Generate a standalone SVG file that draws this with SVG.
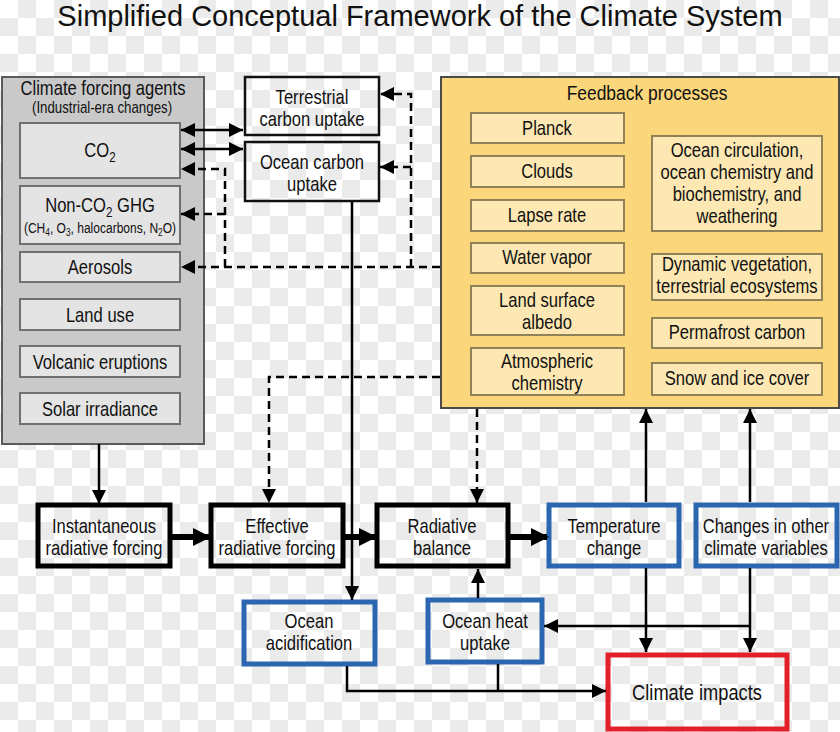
<svg xmlns="http://www.w3.org/2000/svg" width="840" height="732" viewBox="0 0 840 732">
<style>
text{font-family:"Liberation Sans",Arial,sans-serif;fill:#111;text-anchor:middle}
.t{font-size:20px}
.title{font-size:29px}
.gbox{fill:#e4e4e4;stroke:#707070;stroke-width:2}
.ybox{fill:#fde8b3;stroke:#8f8258;stroke-width:2}
.wbox{fill:none;stroke:#111;stroke-width:2.5}
.kbox{fill:none;stroke:#000;stroke-width:5}
.bbox{fill:none;stroke:#2b66b0;stroke-width:5}
.rbox{fill:none;stroke:#e2202b;stroke-width:5}
.ln{fill:none;stroke:#000;stroke-width:2.5}
.thick{fill:none;stroke:#000;stroke-width:6}
.dash{fill:none;stroke:#000;stroke-width:2.5;stroke-dasharray:8 5}
</style>
<defs>
<pattern id="chk" width="36" height="36" patternUnits="userSpaceOnUse">
<rect width="36" height="36" fill="#ffffff"/>
<rect x="18" y="0" width="18" height="18" fill="#ebebeb"/>
<rect x="0" y="18" width="18" height="18" fill="#ebebeb"/>
</pattern>
<marker id="ah" markerUnits="userSpaceOnUse" markerWidth="14" markerHeight="14" viewBox="0 0 14 14" refX="14" refY="7" orient="auto-start-reverse">
<path d="M0,0 L14,7 L0,14 z" fill="#000"/>
</marker>
<marker id="ahb" markerUnits="userSpaceOnUse" markerWidth="18" markerHeight="18" viewBox="0 0 18 18" refX="16" refY="9" orient="auto">
<path d="M0,0 L18,9 L0,18 z" fill="#000"/>
</marker>
</defs>
<rect width="840" height="732" fill="url(#chk)"/>
<text class="title" x="420" y="26">Simplified Conceptual Framework of the Climate System</text>

<g id="forcing-agents">
<rect x="2" y="77" width="202" height="367" fill="#c9c9c9" stroke="#5a5a5a" stroke-width="2"/>
<text transform="matrix(.83 0 0 1 103 0)" x="0" y="95" style="font-size:20px">Climate forcing agents</text>
<text transform="matrix(.83 0 0 1 102 0)" x="0" y="113" style="font-size:16px">(Industrial-era changes)</text>
</g>
<g id="co2"><rect class="gbox" x="20" y="123" width="160" height="55"/><text class="t" transform="matrix(.83 0 0 1 100 0)" x="0" y="157">CO<tspan style="font-size:14px" dy="5">2</tspan></text></g>
<g id="nonco2"><rect class="gbox" x="20" y="186" width="160" height="58"/>
<text class="t" transform="matrix(.83 0 0 1 100 0)" x="0" y="212">Non-CO<tspan style="font-size:14px" dy="5">2</tspan><tspan dy="-5"> GHG</tspan></text>
<text transform="matrix(.83 0 0 1 100 0)" x="0" y="233" style="font-size:14.5px">(CH<tspan style="font-size:10px" dy="3">4</tspan><tspan dy="-3">, O</tspan><tspan style="font-size:10px" dy="3">3</tspan><tspan dy="-3">, halocarbons, N</tspan><tspan style="font-size:10px" dy="3">2</tspan><tspan dy="-3">O)</tspan></text></g>
<g id="aerosols"><rect class="gbox" x="20" y="252" width="160" height="30"/><text class="t" transform="matrix(.83 0 0 1 100 0)" x="0" y="274">Aerosols</text></g>
<g id="landuse"><rect class="gbox" x="20" y="299" width="160" height="31"/><text class="t" transform="matrix(.83 0 0 1 100 0)" x="0" y="322">Land use</text></g>
<g id="volcanic"><rect class="gbox" x="20" y="346" width="160" height="31"/><text class="t" transform="matrix(.83 0 0 1 100 0)" x="0" y="369">Volcanic eruptions</text></g>
<g id="solar"><rect class="gbox" x="20" y="393" width="160" height="31"/><text class="t" transform="matrix(.83 0 0 1 100 0)" x="0" y="416">Solar irradiance</text></g>

<g id="terrestrial-uptake"><rect class="wbox" x="245" y="77" width="134" height="58"/><text class="t" transform="matrix(.83 0 0 1 312 0)" x="0" y="104">Terrestrial</text><text class="t" transform="matrix(.83 0 0 1 312 0)" x="0" y="126">carbon uptake</text></g>
<g id="ocean-uptake"><rect class="wbox" x="245" y="142" width="134" height="59"/><text class="t" transform="matrix(.83 0 0 1 312 0)" x="0" y="169">Ocean carbon</text><text class="t" transform="matrix(.83 0 0 1 312 0)" x="0" y="191">uptake</text></g>

<g id="feedback">
<rect x="441" y="77" width="398" height="331" fill="#fcd67b" stroke="#4a4a4a" stroke-width="2"/>
<text transform="matrix(.83 0 0 1 647 0)" x="0" y="100" style="font-size:21px">Feedback processes</text>
</g>
<g id="planck"><rect class="ybox" x="471" y="113" width="153" height="30"/><text class="t" transform="matrix(.83 0 0 1 547 0)" x="0" y="135">Planck</text></g>
<g id="clouds"><rect class="ybox" x="471" y="156" width="153" height="31"/><text class="t" transform="matrix(.83 0 0 1 547 0)" x="0" y="178">Clouds</text></g>
<g id="lapse"><rect class="ybox" x="471" y="200" width="153" height="31"/><text class="t" transform="matrix(.83 0 0 1 547 0)" x="0" y="222">Lapse rate</text></g>
<g id="watervapor"><rect class="ybox" x="471" y="243" width="153" height="30"/><text class="t" transform="matrix(.83 0 0 1 547 0)" x="0" y="264">Water vapor</text></g>
<g id="albedo"><rect class="ybox" x="471" y="286" width="153" height="49"/><text class="t" transform="matrix(.83 0 0 1 547 0)" x="0" y="307">Land surface</text><text class="t" transform="matrix(.83 0 0 1 547 0)" x="0" y="329">albedo</text></g>
<g id="atmchem"><rect class="ybox" x="471" y="348" width="153" height="47"/><text class="t" transform="matrix(.83 0 0 1 547 0)" x="0" y="368">Atmospheric</text><text class="t" transform="matrix(.83 0 0 1 547 0)" x="0" y="390">chemistry</text></g>
<g id="ocean-circ"><rect class="ybox" x="652" y="136" width="170" height="95"/><text class="t" transform="matrix(.83 0 0 1 737 0)" x="0" y="157">Ocean circulation,</text><text class="t" transform="matrix(.83 0 0 1 737 0)" x="0" y="179">ocean chemistry and</text><text class="t" transform="matrix(.83 0 0 1 737 0)" x="0" y="201">biochemistry, and</text><text class="t" transform="matrix(.83 0 0 1 737 0)" x="0" y="223">weathering</text></g>
<g id="vegetation"><rect class="ybox" x="652" y="254" width="170" height="46"/><text class="t" transform="matrix(.83 0 0 1 737 0)" x="0" y="271">Dynamic vegetation,</text><text class="t" transform="matrix(.83 0 0 1 737 0)" x="0" y="293">terrestrial ecosystems</text></g>
<g id="permafrost"><rect class="ybox" x="652" y="318" width="170" height="30"/><text class="t" transform="matrix(.83 0 0 1 737 0)" x="0" y="339">Permafrost carbon</text></g>
<g id="snowice"><rect class="ybox" x="652" y="363" width="170" height="32"/><text class="t" transform="matrix(.83 0 0 1 737 0)" x="0" y="385">Snow and ice cover</text></g>

<g id="instantaneous"><rect class="kbox" x="38" y="505" width="132" height="61"/><text class="t" transform="matrix(.83 0 0 1 104 0)" x="0" y="533">Instantaneous</text><text class="t" transform="matrix(.83 0 0 1 104 0)" x="0" y="555">radiative forcing</text></g>
<g id="effective"><rect class="kbox" x="211" y="505" width="132" height="61"/><text class="t" transform="matrix(.83 0 0 1 277 0)" x="0" y="533">Effective</text><text class="t" transform="matrix(.83 0 0 1 277 0)" x="0" y="555">radiative forcing</text></g>
<g id="radbalance"><rect class="kbox" x="377" y="505" width="131" height="61"/><text class="t" transform="matrix(.83 0 0 1 442 0)" x="0" y="533">Radiative</text><text class="t" transform="matrix(.83 0 0 1 442 0)" x="0" y="555">balance</text></g>
<g id="temperature"><rect class="bbox" x="549" y="505" width="130" height="61"/><text class="t" transform="matrix(.83 0 0 1 614 0)" x="0" y="533">Temperature</text><text class="t" transform="matrix(.83 0 0 1 614 0)" x="0" y="555">change</text></g>
<g id="othervars"><rect class="bbox" x="696" y="505" width="141" height="61"/><text class="t" transform="matrix(.83 0 0 1 766 0)" x="0" y="533">Changes in other</text><text class="t" transform="matrix(.83 0 0 1 766 0)" x="0" y="555">climate variables</text></g>
<g id="acidification"><rect class="bbox" x="244" y="602" width="131" height="62"/><text class="t" transform="matrix(.83 0 0 1 309 0)" x="0" y="628">Ocean</text><text class="t" transform="matrix(.83 0 0 1 309 0)" x="0" y="650">acidification</text></g>
<g id="heatuptake"><rect class="bbox" x="428" y="600" width="114" height="62"/><text class="t" transform="matrix(.83 0 0 1 485 0)" x="0" y="628">Ocean heat</text><text class="t" transform="matrix(.83 0 0 1 485 0)" x="0" y="650">uptake</text></g>
<g id="impacts"><rect class="rbox" x="608" y="655" width="179" height="74"/><text transform="matrix(.83 0 0 1 697 0)" x="0" y="700" style="font-size:22px">Climate impacts</text></g>

<g id="connectors">
<path class="ln" d="M99,444 V504" marker-end="url(#ah)"/>
<path class="thick" d="M170,537 H209" marker-end="url(#ahb)"/>
<path class="thick" d="M343,537 H375" marker-end="url(#ahb)"/>
<path class="thick" d="M508,537 H547" marker-end="url(#ahb)"/>
<path class="ln" d="M646,502 V409" marker-end="url(#ah)"/>
<path class="ln" d="M750,502 V409" marker-end="url(#ah)"/>
<path class="ln" d="M646,568 V652" marker-end="url(#ah)"/>
<path class="ln" d="M750,568 V652" marker-end="url(#ah)"/>
<path class="ln" d="M750,626 H544" marker-end="url(#ah)"/>
<path class="ln" d="M478,598 V569" marker-end="url(#ah)"/>
<path class="ln" d="M352,201 V600" marker-end="url(#ah)"/>
<path class="ln" d="M347,666 V691 H606" marker-end="url(#ah)"/>
<path class="ln" d="M498,664 V691"/>
<path class="ln" d="M181,130 H243" marker-start="url(#ah)" marker-end="url(#ah)"/>
<path class="ln" d="M181,149 H243" marker-start="url(#ah)" marker-end="url(#ah)"/>
<path class="dash" d="M440,267 H181" marker-end="url(#ah)"/>
<path class="dash" d="M411,267 V94 H380" marker-end="url(#ah)"/>
<path class="dash" d="M411,167 H380" marker-end="url(#ah)"/>
<path class="dash" d="M225,267 V169 H181" marker-end="url(#ah)"/>
<path class="dash" d="M225,214 H181" marker-end="url(#ah)"/>
<path class="dash" d="M440,377 H269 V503" marker-end="url(#ah)"/>
<path class="dash" d="M477,409 V503" marker-end="url(#ah)"/>
</g>
</svg>
